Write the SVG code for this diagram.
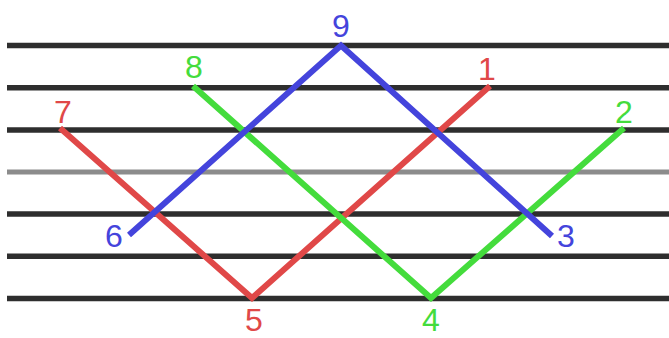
<svg xmlns="http://www.w3.org/2000/svg" width="669" height="338" viewBox="0 0 669 338">
  <style>
    .staff { stroke: #2e2e2e; stroke-width: 5.5; }
    .mid { stroke: #8c8c8c; stroke-width: 5; }
    .path { fill: none; stroke-width: 6; stroke-linejoin: miter; stroke-linecap: butt; }
    .lbl { font-family: "Liberation Sans", Arial, sans-serif; font-size: 32px; text-anchor: middle; }
    .red { stroke: #e04848; }
    .green { stroke: #44dc3c; }
    .blue { stroke: #4444dc; }
    .tred { fill: #e04848; }
    .tgreen { fill: #44dc3c; }
    .tblue { fill: #4444dc; }
  </style>
  <rect width="669" height="338" fill="#ffffff"/>
  <g id="staff-lines">
    <line class="staff" x1="7" y1="45.5" x2="669" y2="45.5"/>
    <line class="staff" x1="7" y1="87.7" x2="669" y2="87.7"/>
    <line class="staff" x1="7" y1="130" x2="669" y2="130"/>
    <line class="mid" x1="7" y1="172" x2="669" y2="172"/>
    <line class="staff" x1="7" y1="214" x2="669" y2="214"/>
    <line class="staff" x1="7" y1="256.3" x2="669" y2="256.3"/>
    <line class="staff" x1="7" y1="298.5" x2="669" y2="298.5"/>
  </g>
  <g id="connectors">
    <polyline class="path red" points="60,128 252,298 490,86"/>
    <polyline class="path green" points="193,86 431,298 624,128"/>
    <polyline class="path blue" points="129,235 341,45.5 552,236"/>
  </g>
  <g id="n9"><text class="lbl tblue" x="341" y="37">9</text></g>
  <g id="n8"><text class="lbl tgreen" x="194" y="78">8</text></g>
  <g id="n1"><text class="lbl tred" x="487" y="80">1</text></g>
  <g id="n7"><text class="lbl tred" x="63" y="123">7</text></g>
  <g id="n2"><text class="lbl tgreen" x="624" y="123">2</text></g>
  <g id="n6"><text class="lbl tblue" x="114" y="247">6</text></g>
  <g id="n3"><text class="lbl tblue" x="566" y="247">3</text></g>
  <g id="n5"><text class="lbl tred" x="254" y="331">5</text></g>
  <g id="n4"><text class="lbl tgreen" x="431" y="331">4</text></g>
</svg>
